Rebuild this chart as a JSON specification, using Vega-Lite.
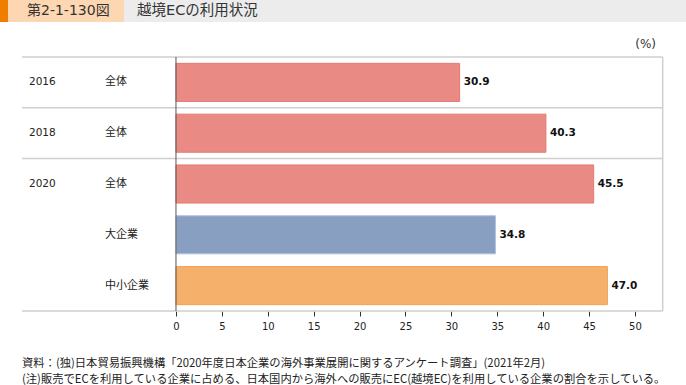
{
  "$schema": "https://vega.github.io/schema/vega-lite/v6.json",
  "padding": 0,
  "background": "white",
  "config": {
    "font": "DejaVu Sans, Noto Sans CJK JP",
    "view": {"stroke": null},
    "concat": {"spacing": 16},
    "axis": {"grid": false}
  },
  "title": {
    "text": ["資料：(独)日本貿易振興機構「2020年度日本企業の海外事業展開に関するアンケート調査」(2021年2月)", "(注)販売でECを利用している企業に占める、日本国内から海外への販売にEC(越境EC)を利用している企業の割合を示している。"],
    "orient": "bottom",
    "anchor": "start",
    "frame": "group",
    "dx": 22,
    "offset": 27,
    "fontSize": 11.3,
    "fontWeight": "normal",
    "color": "#222",
    "lineHeight": 15.5,
    "font": "Noto Sans CJK JP"
  },
  "vconcat": [
    {
      "width": 686,
      "height": 22,
      "data": {"values": [{}]},
      "layer": [
        {
          "mark": {"type": "rect", "color": "#ececec"},
          "encoding": {
            "x": {"datum": 0, "type": "quantitative", "scale": {"domain": [0, 686], "nice": false, "zero": false}, "axis": null},
            "x2": {"datum": 686},
            "y": {"datum": 0, "type": "quantitative", "scale": {"domain": [0, 1], "nice": false}, "axis": null},
            "y2": {"datum": 1}
          }
        },
        {
          "mark": {"type": "rect", "color": "#ef7d00"},
          "encoding": {
            "x": {"datum": 0, "type": "quantitative"},
            "x2": {"datum": 8},
            "y": {"datum": 0, "type": "quantitative"},
            "y2": {"datum": 1}
          }
        },
        {
          "mark": {"type": "rect", "color": "#fcd7b2"},
          "encoding": {
            "x": {"datum": 8, "type": "quantitative"},
            "x2": {"datum": 124},
            "y": {"datum": 0, "type": "quantitative"},
            "y2": {"datum": 1}
          }
        },
        {
          "mark": {"type": "text", "text": "第2-1-130図", "align": "left", "baseline": "middle", "fontSize": 14, "color": "#333"},
          "encoding": {
            "x": {"datum": 27, "type": "quantitative"},
            "y": {"datum": 0.5, "type": "quantitative"}
          }
        },
        {
          "mark": {"type": "text", "text": "越境ECの利用状況", "align": "left", "baseline": "middle", "fontSize": 14.5, "color": "#333"},
          "encoding": {
            "x": {"datum": 137, "type": "quantitative"},
            "y": {"datum": 0.5, "type": "quantitative"}
          }
        }
      ]
    },
    {
      "width": 686,
      "height": 254,
      "title": {"text": "(%)", "anchor": "end", "frame": "group", "dx": -30, "offset": 5, "fontSize": 12, "fontWeight": "normal", "color": "#333"},
      "data": {"values": [
        {"id": "r1", "year": "2016", "category": "全体", "value": 30.9},
        {"id": "r2", "year": "2018", "category": "全体", "value": 40.3},
        {"id": "r3", "year": "2020", "category": "全体", "value": 45.5},
        {"id": "r4", "year": "", "category": "大企業", "value": 34.8},
        {"id": "r5", "year": "", "category": "中小企業", "value": 47.0}
      ]},
      "layer": [
        {
          "mark": {"type": "bar", "height": {"band": 0.75}, "strokeWidth": 1},
          "encoding": {
            "y": {"field": "id", "type": "nominal", "scale": {"paddingInner": 0, "paddingOuter": 0}, "axis": null},
            "x": {"field": "value", "type": "quantitative", "scale": {"domain": [-19.17, 55.56], "nice": false, "zero": false},
              "axis": {"values": [0, 5, 10, 15, 20, 25, 30, 35, 40, 45, 50], "title": null, "domain": false, "tickColor": "#333", "tickSize": 5, "labelFontSize": 10, "labelColor": "#222", "labelPadding": 5}},
            "x2": {"datum": 0},
            "color": {"field": "category", "type": "nominal", "scale": {"domain": ["全体", "大企業", "中小企業"], "range": ["#e98b84", "#889fc2", "#f5b06c"]}, "legend": null},
            "stroke": {"field": "category", "type": "nominal", "scale": {"domain": ["全体", "大企業", "中小企業"], "range": ["#e47a72", "#b2c1db", "#f3a24f"]}, "legend": null}
          }
        },
        {
          "transform": [{"filter": "datum.year != ''"}],
          "mark": {"type": "rule", "color": "#cfcfcf", "strokeWidth": 1.5},
          "encoding": {
            "y": {"field": "id", "type": "nominal", "bandPosition": 0},
            "x": {"datum": -16.78, "type": "quantitative"},
            "x2": {"datum": 53.02}
          }
        },
        {
          "transform": [{"filter": "datum.id == 'r5'"}],
          "mark": {"type": "rule", "color": "#cfcfcf", "strokeWidth": 1.5},
          "encoding": {
            "y": {"field": "id", "type": "nominal", "bandPosition": 1},
            "x": {"datum": -16.78, "type": "quantitative"},
            "x2": {"datum": 53.02}
          }
        },
        {
          "transform": [{"filter": "datum.id == 'r1'"}],
          "mark": {"type": "rule", "color": "#cfcfcf", "strokeWidth": 1.5},
          "encoding": {
            "x": {"datum": 53.02, "type": "quantitative"}
          }
        },
        {
          "transform": [{"filter": "datum.id == 'r1'"}],
          "mark": {"type": "rule", "color": "#555", "strokeWidth": 1},
          "encoding": {
            "x": {"datum": 0, "type": "quantitative"}
          }
        },
        {
          "mark": {"type": "text", "align": "left", "baseline": "middle", "dx": 4, "fontSize": 10.5, "fontWeight": "bold", "color": "#111"},
          "encoding": {
            "y": {"field": "id", "type": "nominal"},
            "x": {"field": "value", "type": "quantitative"},
            "text": {"field": "value", "type": "quantitative", "format": ".1f"}
          }
        },
        {
          "mark": {"type": "text", "align": "left", "baseline": "middle", "fontSize": 10.5, "color": "#222"},
          "encoding": {
            "y": {"field": "id", "type": "nominal"},
            "x": {"datum": -16.01, "type": "quantitative"},
            "text": {"field": "year"}
          }
        },
        {
          "mark": {"type": "text", "align": "left", "baseline": "middle", "fontSize": 11, "color": "#222"},
          "encoding": {
            "y": {"field": "id", "type": "nominal"},
            "x": {"datum": -7.73, "type": "quantitative"},
            "text": {"field": "category"}
          }
        }
      ]
    }
  ]
}
